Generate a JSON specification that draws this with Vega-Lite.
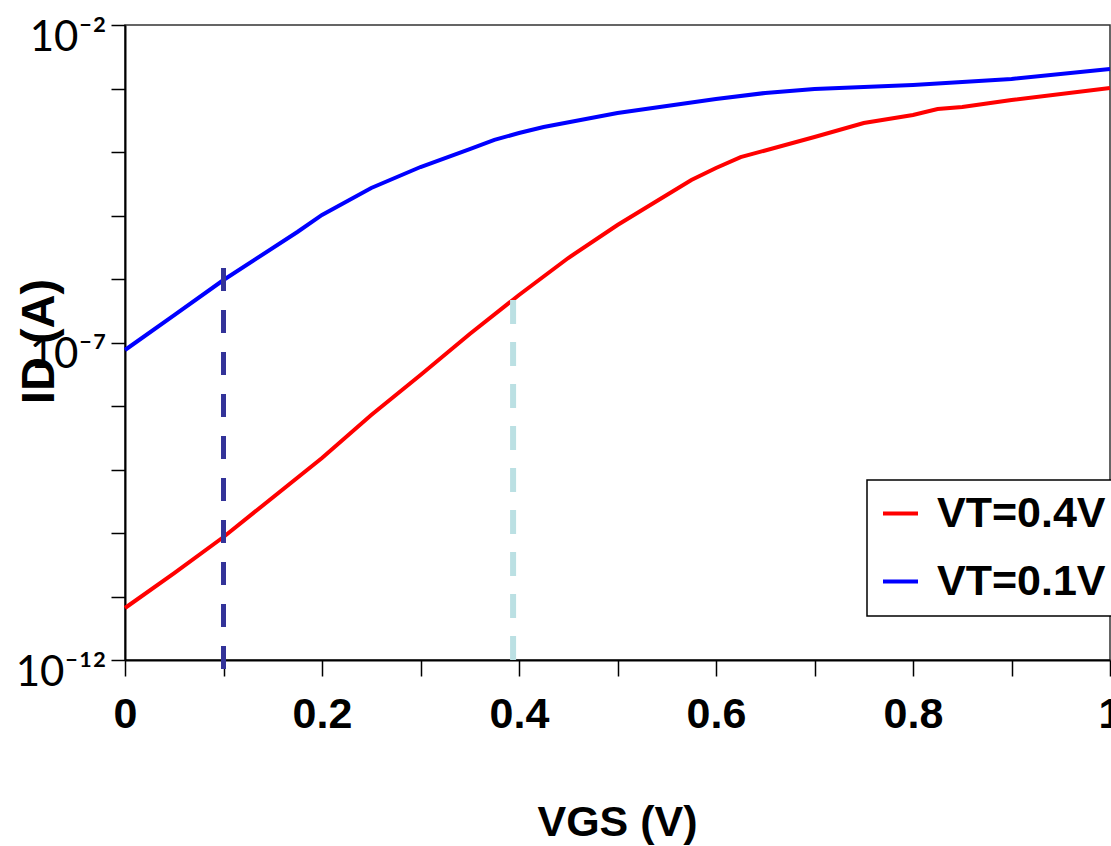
{
  "$schema": "https://vega.github.io/schema/vega-lite/v6.json",
  "width": 985,
  "height": 635,
  "autosize": {"type": "none"},
  "padding": {"left": 125, "top": 25, "right": 1, "bottom": 186},
  "background": "white",
  "config": {
    "view": {"stroke": "#333333", "strokeWidth": 1.5},
    "axis": {"grid": false, "domainColor": "black", "domainWidth": 2, "tickColor": "black", "tickWidth": 1.5, "labelColor": "black", "titleColor": "black", "labelFlush": false, "labelOverlap": false}
  },
  "datasets": {
    "curves": [
      {"vgs": 0, "id": 7.62e-8, "series": "VT=0.1V"},
      {"vgs": 0.05, "id": 2.71e-7, "series": "VT=0.1V"},
      {"vgs": 0.1, "id": 9.64e-7, "series": "VT=0.1V"},
      {"vgs": 0.175, "id": 5.5e-6, "series": "VT=0.1V"},
      {"vgs": 0.2, "id": 1.02e-5, "series": "VT=0.1V"},
      {"vgs": 0.25, "id": 2.71e-5, "series": "VT=0.1V"},
      {"vgs": 0.3, "id": 5.8e-5, "series": "VT=0.1V"},
      {"vgs": 0.35, "id": 1.11e-4, "series": "VT=0.1V"},
      {"vgs": 0.375, "id": 1.55e-4, "series": "VT=0.1V"},
      {"vgs": 0.4, "id": 1.99e-4, "series": "VT=0.1V"},
      {"vgs": 0.425, "id": 2.48e-4, "series": "VT=0.1V"},
      {"vgs": 0.5, "id": 4.11e-4, "series": "VT=0.1V"},
      {"vgs": 0.6, "id": 6.84e-4, "series": "VT=0.1V"},
      {"vgs": 0.65, "id": 8.5e-4, "series": "VT=0.1V"},
      {"vgs": 0.7, "id": 9.8e-4, "series": "VT=0.1V"},
      {"vgs": 0.8, "id": 1.14e-3, "series": "VT=0.1V"},
      {"vgs": 0.9, "id": 1.41e-3, "series": "VT=0.1V"},
      {"vgs": 1.0, "id": 2.03e-3, "series": "VT=0.1V"},
      {"vgs": 0, "id": 6.59e-12, "series": "VT=0.4V"},
      {"vgs": 0.05, "id": 2.34e-11, "series": "VT=0.4V"},
      {"vgs": 0.1, "id": 8.65e-11, "series": "VT=0.4V"},
      {"vgs": 0.2, "id": 1.52e-9, "series": "VT=0.4V"},
      {"vgs": 0.25, "id": 7.2e-9, "series": "VT=0.4V"},
      {"vgs": 0.3, "id": 3.08e-8, "series": "VT=0.4V"},
      {"vgs": 0.35, "id": 1.36e-7, "series": "VT=0.4V"},
      {"vgs": 0.4, "id": 5.6e-7, "series": "VT=0.4V"},
      {"vgs": 0.45, "id": 2.14e-6, "series": "VT=0.4V"},
      {"vgs": 0.5, "id": 7.08e-6, "series": "VT=0.4V"},
      {"vgs": 0.55, "id": 2.1e-5, "series": "VT=0.4V"},
      {"vgs": 0.575, "id": 3.62e-5, "series": "VT=0.4V"},
      {"vgs": 0.6, "id": 5.6e-5, "series": "VT=0.4V"},
      {"vgs": 0.625, "id": 8.3e-5, "series": "VT=0.4V"},
      {"vgs": 0.7, "id": 1.72e-4, "series": "VT=0.4V"},
      {"vgs": 0.75, "id": 2.86e-4, "series": "VT=0.4V"},
      {"vgs": 0.8, "id": 3.83e-4, "series": "VT=0.4V"},
      {"vgs": 0.825, "id": 4.75e-4, "series": "VT=0.4V"},
      {"vgs": 0.85, "id": 5.1e-4, "series": "VT=0.4V"},
      {"vgs": 0.9, "id": 6.6e-4, "series": "VT=0.4V"},
      {"vgs": 1.0, "id": 1.02e-3, "series": "VT=0.4V"}
    ],
    "markers": [
      {"marker": "VT=0.1V", "vgs": 0.1, "id": 1.49e-6, "bottom": 6.47e-13},
      {"marker": "VT=0.4V", "vgs": 0.394, "id": 4.67e-7, "bottom": 9.3e-13}
    ]
  },
  "layer": [
    {
      "data": {"name": "curves"},
      "mark": {"type": "line", "strokeWidth": 4},
      "encoding": {
        "x": {
          "field": "vgs", "type": "quantitative",
          "scale": {"domain": [0, 1], "nice": false, "zero": false},
          "axis": {
            "title": "VGS (V)",
            "values": [0, 0.1, 0.2, 0.3, 0.4, 0.5, 0.6, 0.7, 0.8, 0.9, 1.0],
            "labelExpr": "round(datum.value*10)%2==0 ? format(datum.value, '~g') : ''",
            "labelFont": "Liberation Sans", "labelFontSize": 43, "labelFontWeight": "bold",
            "labelBaseline": "alphabetic", "labelPadding": 51,
            "tickSize": 16,
            "titleFont": "Liberation Sans", "titleFontSize": 43, "titleFontWeight": "bold",
            "titleBaseline": "alphabetic", "titleY": 175, "titleX": 492, "titleAnchor": "middle", "titleAlign": "center"
          }
        },
        "y": {
          "field": "id", "type": "quantitative",
          "scale": {"type": "log", "domain": [1e-12, 1e-2], "nice": false},
          "axis": {
            "title": "ID (A)",
            "values": [1e-12, 1e-11, 1e-10, 1e-9, 1e-8, 1e-7, 1e-6, 1e-5, 1e-4, 1e-3, 1e-2],
            "labelExpr": "round(log(datum.value)/LN10) == -2 ? '10⁻²' : round(log(datum.value)/LN10) == -7 ? '10⁻⁷' : round(log(datum.value)/LN10) == -12 ? '10⁻¹²' : ''",
            "labelFont": "Lato", "labelFontSize": 42,
            "labelBaseline": "alphabetic", "labelOffset": 25, "labelPadding": 5,
            "tickSize": 14,
            "titleFont": "Liberation Sans", "titleFontSize": 47, "titleFontWeight": "bold",
            "titleAngle": 270, "titleBaseline": "alphabetic", "titleAlign": "center",
            "titleX": -72, "titleY": 316
          }
        },
        "color": {
          "field": "series", "type": "nominal",
          "scale": {"domain": ["VT=0.4V", "VT=0.1V"], "range": ["#FF0000", "#0000FF"]},
          "legend": {
            "title": null, "orient": "none", "legendX": 742, "legendY": 455,
            "strokeColor": "black", "fillColor": "white", "padding": 12,
            "symbolType": "stroke", "symbolSize": 1225, "symbolStrokeWidth": 4,
            "labelFont": "Liberation Sans", "labelFontSize": 43, "labelFontWeight": "bold",
            "labelColor": "black", "labelOffset": 15, "rowPadding": 24, "labelLimit": 400,
            "encode": {"legend": {"update": {"strokeWidth": {"value": 1.5}}}}
          }
        }
      }
    },
    {
      "data": {"name": "markers"},
      "transform": [{"filter": "datum.marker == 'VT=0.1V'"}],
      "mark": {"type": "rule", "color": "#333399", "strokeWidth": 5, "strokeDash": [23, 19]},
      "encoding": {
        "x": {"field": "vgs", "type": "quantitative"},
        "y": {"field": "id", "type": "quantitative"},
        "y2": {"field": "bottom"}
      }
    },
    {
      "data": {"name": "markers"},
      "transform": [{"filter": "datum.marker == 'VT=0.4V'"}],
      "mark": {"type": "rule", "color": "#BBE0E3", "strokeWidth": 6, "strokeDash": [24, 18]},
      "encoding": {
        "x": {"field": "vgs", "type": "quantitative"},
        "y": {"field": "id", "type": "quantitative"},
        "y2": {"field": "bottom"}
      }
    }
  ]
}
